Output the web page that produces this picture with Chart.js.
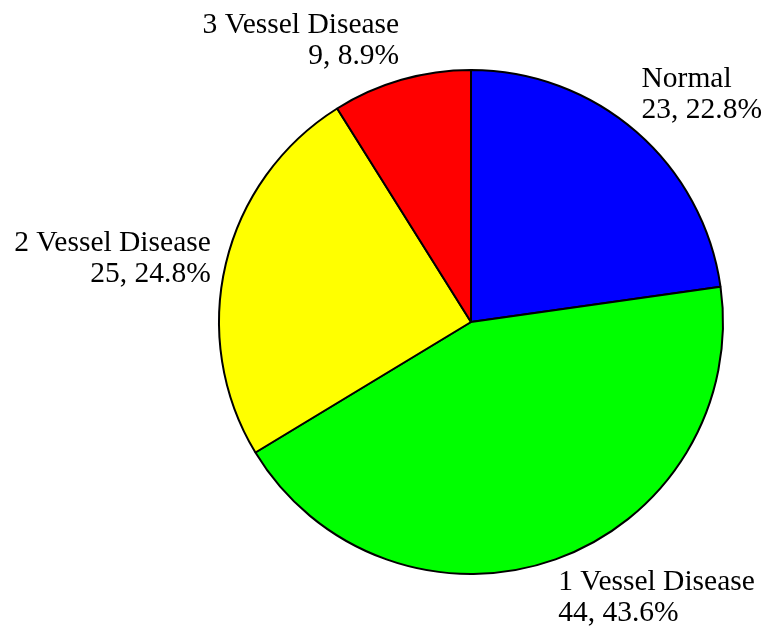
<!DOCTYPE html>
<html>
<head>
<meta charset="utf-8">
<script src="https://cdn.jsdelivr.net/npm/chart.js@4"></script>
<style>
  html, body { margin: 0; padding: 0; background: #fff; }
  #wrap { width: 763px; height: 630px; }
</style>
</head>
<body>
<div id="wrap"><canvas id="pieChart" width="763" height="630"></canvas></div>
<script>
const categories = ['Normal', '1 Vessel Disease', '2 Vessel Disease', '3 Vessel Disease'];
const counts = [23, 44, 25, 9];
const sliceColors = ['#0000ff', '#00ff00', '#ffff00', '#ff0000'];

const labelFont = "29.5px 'Liberation Serif', 'Times New Roman', serif";
const lineGap = 31;
const labelGap = 8;
const sidePad = 8;

// draws "name / n, pct%" outside each slice, nearest corner of the box toward the pie
const outsideLabels = {
    id: 'outsideLabels',
    afterDatasetsDraw(chart) {
        const ctx = chart.ctx;
        const meta = chart.getDatasetMeta(0);
        const total = counts.reduce((a, b) => a + b, 0);
        ctx.save();
        ctx.font = labelFont;
        ctx.fillStyle = '#000';
        ctx.textBaseline = 'middle';
        meta.data.forEach((arc, i) => {
            const mid = (arc.startAngle + arc.endAngle) / 2;
            const r = arc.outerRadius + labelGap;
            const dx = Math.cos(mid), dy = Math.sin(mid);
            const k = Math.min(1, Math.pow(Math.abs(dy) / 0.75, 2));
            const x = arc.x + dx * r + Math.sign(dx) * sidePad * (1 - k);
            const y = arc.y + dy * r;
            const cy = y + Math.sign(dy) * lineGap * k;
            ctx.textAlign = dx >= 0 ? 'left' : 'right';
            const pct = (counts[i] / total * 100).toFixed(1);
            ctx.fillText(categories[i], x, cy - lineGap / 2);
            ctx.fillText(counts[i] + ', ' + pct + '%', x, cy + lineGap / 2);
        });
        ctx.restore();
    }
};

new Chart(document.getElementById('pieChart'), {
    type: 'pie',
    data: {
        labels: categories,
        datasets: [{
            data: counts,
            backgroundColor: sliceColors,
            borderColor: '#000',
            borderWidth: 2
        }]
    },
    options: {
        responsive: false,
        animation: false,
        layout: {
            padding: { left: 218, right: 39, top: 69, bottom: 55 }
        },
        plugins: {
            legend: { display: false },
            tooltip: { enabled: false }
        }
    },
    plugins: [outsideLabels]
});
</script>
</body>
</html>
